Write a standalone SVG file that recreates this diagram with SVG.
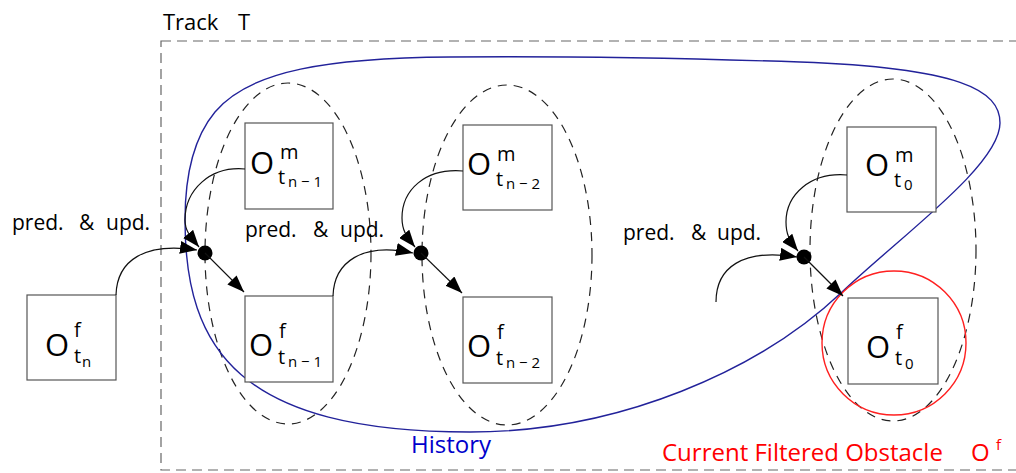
<svg xmlns="http://www.w3.org/2000/svg" width="1016" height="473" viewBox="0 0 1016 473">
  <style>
    text { font-family: "Open Sans", "Noto Sans", "DejaVu Sans", sans-serif; fill: #000; }
    .box { fill: #fff; stroke: #555; stroke-width: 1.2; }
    .big { font-size: 31px; }
    .sup { font-size: 20px; }
    .sub2 { font-size: 15px; }
    .lbl { font-size: 21px; }
    .track { fill: none; stroke: #666; stroke-width: 1.2; stroke-dasharray: 10 6; }
    .group { fill: none; stroke: #222; stroke-width: 1.2; stroke-dasharray: 9 7; }
    .history { fill: none; stroke: #22229a; stroke-width: 1.4; }
    .current { fill: none; stroke: #ff2020; stroke-width: 1.4; }
    .edge { fill: none; stroke: #111; stroke-width: 1.2; marker-end: url(#head); }
  </style>
  <defs>
    <marker id="head" markerUnits="userSpaceOnUse" markerWidth="18" markerHeight="13" refX="17" refY="6.5" orient="auto">
      <path d="M0,0 L17,6.5 L0,13 Z" fill="#000"/>
    </marker>
  </defs>

  <!-- track frame -->
  <rect class="track" x="161" y="41" width="870" height="429"/>
  <text x="163" y="30" style="font-size:22px">Track</text>
  <text x="238" y="30" style="font-size:22px">T</text>

  <!-- per-time-step groupings -->
  <ellipse class="group" cx="288" cy="253.5" rx="83" ry="170.5"/>
  <ellipse class="group" cx="507" cy="255" rx="85" ry="170"/>
  <ellipse class="group" cx="893" cy="250" rx="83" ry="171"/>

  <!-- history loop -->
  <path class="history" d="M470,432 C620,432 760,370 842,292 C902,235 1000,165 1000,123 C1000,90 960,68 800,62 C680,58 560,56 450,57 C330,58 250,70 215,112 C190,142 185,185 185,220 C185,350 240,432 470,432 Z"/>
  <text x="411" y="453" style="font-size:24px;fill:#0000cc">History</text>

  <!-- current filtered obstacle -->
  <circle class="current" cx="894" cy="343" r="72"/>
  <text style="fill:#ff0000"><tspan x="662" y="461" style="font-size:24px">Current Filtered Obstacle</tspan><tspan x="971" y="461" style="font-size:24px">O</tspan><tspan x="996" y="450" style="font-size:15px">f</tspan></text>

  <!-- nodes -->
  <g id="of-tn">
    <rect class="box" x="27" y="295" width="89" height="85"/>
    <text><tspan class="big" x="45" y="356">O</tspan><tspan class="sup" x="74" y="337">f</tspan><tspan class="sup" x="74" y="363">t</tspan><tspan class="sub2" x="82" y="367">n</tspan></text>
  </g>
  <g id="om-tn-1">
    <rect class="box" x="245" y="123" width="88" height="86"/>
    <text><tspan class="big" x="250" y="174">O</tspan><tspan class="sup" x="280" y="159">m</tspan><tspan class="sup" x="278" y="184">t</tspan><tspan class="sub2" x="288" y="187">n − 1</tspan></text>
  </g>
  <g id="of-tn-1">
    <rect class="box" x="245" y="296" width="88" height="86"/>
    <text><tspan class="big" x="249" y="356">O</tspan><tspan class="sup" x="279" y="338">f</tspan><tspan class="sup" x="278" y="364">t</tspan><tspan class="sub2" x="288" y="367">n − 1</tspan></text>
  </g>
  <g id="om-tn-2">
    <rect class="box" x="463" y="125" width="89" height="85"/>
    <text><tspan class="big" x="467" y="175">O</tspan><tspan class="sup" x="497" y="161">m</tspan><tspan class="sup" x="496" y="186">t</tspan><tspan class="sub2" x="506" y="189">n − 2</tspan></text>
  </g>
  <g id="of-tn-2">
    <rect class="box" x="463" y="297" width="89" height="86"/>
    <text><tspan class="big" x="467" y="357">O</tspan><tspan class="sup" x="497" y="339">f</tspan><tspan class="sup" x="496" y="365">t</tspan><tspan class="sub2" x="506" y="368">n − 2</tspan></text>
  </g>
  <g id="om-t0">
    <rect class="box" x="847" y="127" width="89" height="85"/>
    <text><tspan class="big" x="865" y="176">O</tspan><tspan class="sup" x="895" y="162">m</tspan><tspan class="sup" x="894" y="187">t</tspan><tspan class="sub2" x="904" y="190">0</tspan></text>
  </g>
  <g id="of-t0">
    <rect class="box" x="848" y="298" width="90" height="86"/>
    <text><tspan class="big" x="866" y="358">O</tspan><tspan class="sup" x="896" y="339">f</tspan><tspan class="sup" x="895" y="365">t</tspan><tspan class="sub2" x="905" y="369">0</tspan></text>
  </g>

  <!-- prediction / update steps -->
  <g id="connectors">
    <path class="edge" d="M116,295 C117,260 145,242 197,250"/>
    <path class="edge" d="M245,169 C210,166 185,190 185,220 C185,230 189,235 199,247"/>
    <circle cx="205" cy="253" r="7.5" fill="#000"/>
    <path class="edge" d="M205,253 L244,292"/>

    <path class="edge" d="M333,296 C334,262 362,242 413,253"/>
    <path class="edge" d="M463,171 C425,168 402,190 402,218 C402,230 406,236 415,247"/>
    <circle cx="421" cy="253" r="7.5" fill="#000"/>
    <path class="edge" d="M421,253 L462,293"/>

    <path class="edge" d="M716,302 C716,268 742,248 797,257"/>
    <path class="edge" d="M847,175 C810,172 786,195 786,222 C786,234 789,240 798,251"/>
    <circle cx="804" cy="257" r="7.5" fill="#000"/>
    <path class="edge" d="M804,257 L843,296"/>
  </g>

  <!-- step labels -->
  <text class="lbl"><tspan x="12" y="230">pred.</tspan><tspan x="79" y="230">&amp;</tspan><tspan x="106" y="230">upd.</tspan></text>
  <text class="lbl"><tspan x="245" y="237">pred.</tspan><tspan x="313" y="237">&amp;</tspan><tspan x="340" y="237">upd.</tspan></text>
  <text class="lbl"><tspan x="623" y="240">pred.</tspan><tspan x="691" y="240">&amp;</tspan><tspan x="717" y="240">upd.</tspan></text>
</svg>
